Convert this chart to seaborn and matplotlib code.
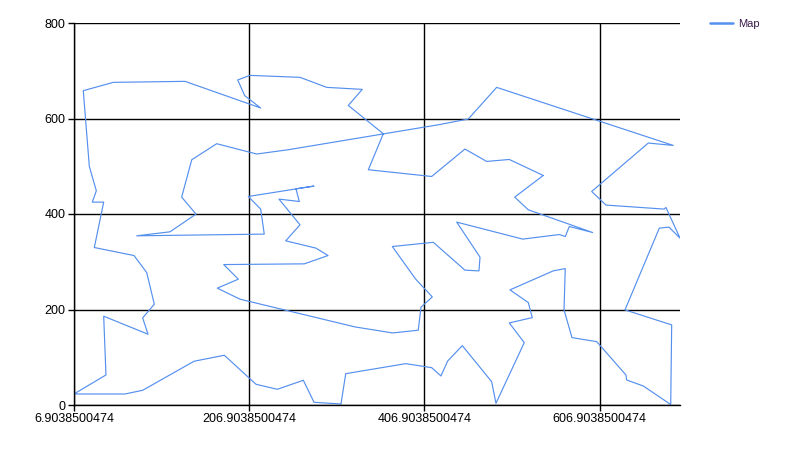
import matplotlib
matplotlib.use("Agg")
import matplotlib.pyplot as plt
import seaborn as sns
import pandas as pd
from matplotlib.ticker import FixedLocator

# Tour coordinates, closed loop
tour_x = [542.6, 510.0, 525.5, 599.0, 572.3, 567.8, 560.9, 519.1, 443.8, 470.4,
          469.2, 453.2, 417.1, 370.3, 397.0, 415.9, 403.0, 399.9, 370.7, 327.7,
          196.4, 170.5, 194.5, 177.8, 269.8, 296.9, 283.2, 248.6, 264.9, 240.9,
          264.1, 260.3, 280.9, 205.9, 220.0, 224.1, 78.5, 116.5, 146.2, 129.8,
          141.3, 169.8, 215.5, 251.5, 423.2, 457.0, 489.4, 691.0, 662.5, 597.9,
          614.2, 680.4, 682.7, 698.7, 686.1, 675.1, 635.9, 689.2, 688.1, 656.8,
          637.8, 637.0, 603.6, 575.4, 566.3, 567.7, 554.0, 504.6, 525.5, 530.1,
          503.8, 520.9, 488.6, 483.7, 450.2, 433.5, 425.8, 415.2, 385.6, 317.1,
          311.7, 280.9, 268.7, 239.0, 214.7, 178.5, 143.9, 85.3, 65.1, 6.9038500474,
          43.4, 40.8, 91.4, 85.3, 98.6, 89.9, 75.4, 30.1, 40.8, 27.8,
          32.4, 24.4, 17.5, 51.8, 133.6, 220.0, 201.8, 193.8, 207.8, 264.9,
          295.4, 336.0, 320.0, 360.0, 342.9, 415.2, 453.2, 478.0, 503.8]
tour_y = [480.7, 435.4, 408.8, 361.2, 373.8, 352.8, 357.0, 347.4, 383.0, 309.6,
          280.9, 282.4, 340.7, 331.9, 263.5, 226.4, 204.8, 156.6, 150.9, 163.5,
          221.6, 244.7, 263.5, 294.1, 295.6, 313.0, 328.5, 343.8, 377.4, 431.2,
          426.2, 452.8, 458.5, 436.7, 410.3, 357.9, 354.3, 362.7, 399.8, 435.4,
          513.6, 547.2, 525.6, 534.6, 587.0, 598.9, 665.2, 543.6, 548.6, 447.2,
          418.7, 410.3, 413.6, 349.5, 372.5, 370.4, 199.2, 167.7, 1.0, 39.8,
          52.4, 62.9, 132.7, 141.1, 199.2, 285.7, 280.9, 241.1, 214.5, 183.0,
          171.9, 130.6, 3.6, 48.8, 124.3, 92.2, 60.8, 78.2, 86.6, 65.6,
          2.1, 5.7, 51.8, 32.9, 43.4, 104.2, 91.6, 30.8, 23.1, 23.1,
          62.9, 186.0, 148.2, 182.4, 211.1, 277.4, 313.0, 329.8, 424.9, 424.9,
          448.6, 499.6, 658.3, 675.7, 677.8, 622.0, 647.8, 680.7, 690.3, 686.2,
          665.2, 661.0, 627.4, 568.1, 492.7, 478.6, 536.0, 510.1, 514.2]

x_ticks = [6.9038500474, 206.9038500474, 406.9038500474, 606.9038500474]
x_tick_labels = ["6.9038500474", "206.9038500474", "406.9038500474", "606.9038500474"]
y_ticks = [0, 200, 400, 600, 800]
y_tick_labels = ["0", "200", "400", "600", "800"]
series_name = "Map"

sns.set_style("white")
plt.rcParams["font.family"] = ["Liberation Sans", "DejaVu Sans"]

df = pd.DataFrame({"x": tour_x + tour_x[:1], "y": tour_y + tour_y[:1]})

fig = plt.figure(figsize=(8, 4.5), dpi=100)
ax = fig.add_axes([74 / 800, 1 - 405 / 450, (680 - 74) / 800, (405 - 23) / 450])

sns.lineplot(data=df, x="x", y="y", sort=False, estimator=None, ax=ax,
             color="#5590ee", linewidth=0.85, label=series_name)

ax.set_xlim(min(tour_x), max(tour_x))
ax.set_ylim(0, 800)
ax.xaxis.set_major_locator(FixedLocator(x_ticks))
ax.set_xticklabels(x_tick_labels)
ax.yaxis.set_major_locator(FixedLocator(y_ticks))
ax.set_yticklabels(y_tick_labels)
ax.set_xlabel("")
ax.set_ylabel("")

ax.grid(True, color="black", linewidth=1.0)
ax.set_axisbelow(True)
for side in ["top", "right"]:
    ax.spines[side].set_visible(False)
for side in ["left", "bottom"]:
    ax.spines[side].set_color("black")
    ax.spines[side].set_linewidth(1.0)

ax.tick_params(axis="both", which="major", direction="out", length=4, width=1,
               color="black", labelsize=9, labelcolor="black", pad=2,
               bottom=True, left=True)

leg = ax.legend(loc="center left", bbox_to_anchor=(706 / 800, 1 - 24 / 450),
                bbox_transform=fig.transFigure, frameon=False, fontsize=8,
                handlelength=2.0, handletextpad=0.5, borderaxespad=0)
for t in leg.get_texts():
    t.set_color("#3a1a4a")
for h in leg.get_lines():
    h.set_linewidth(1.8)

fig.savefig("out.png", dpi=100)
